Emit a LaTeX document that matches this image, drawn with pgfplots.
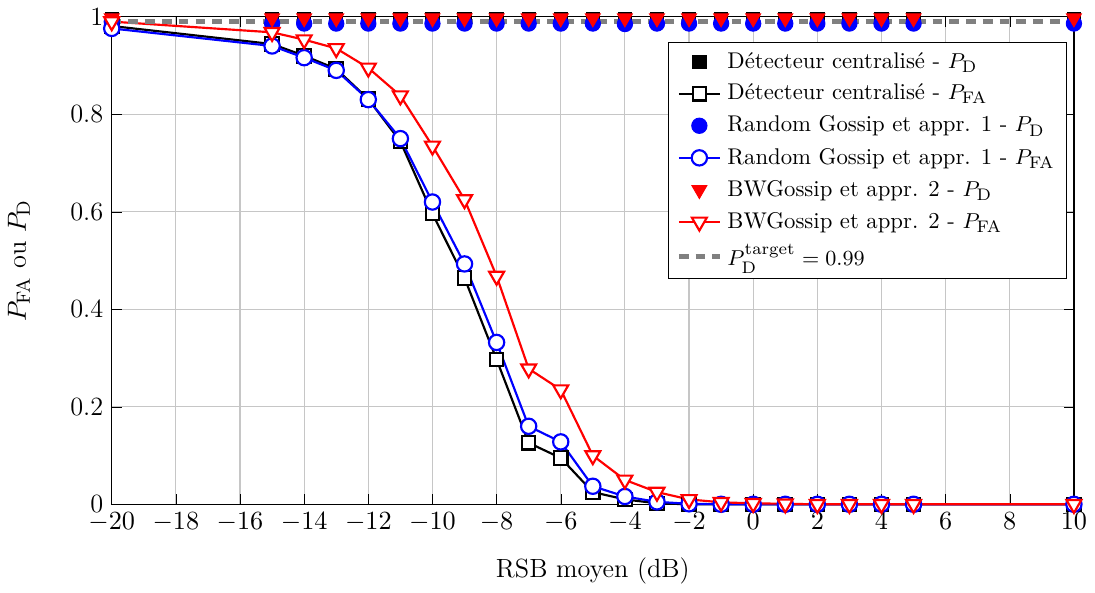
\documentclass[border=0pt]{standalone}
\usepackage{pgfplots}
\pgfplotsset{compat=1.18}
\begin{document}
\begin{tikzpicture}
\begin{axis}[
  scale only axis,
  width=402pt, height=203.7pt,
  xmin=-20, xmax=10, ymin=0, ymax=1,
  xtick={-20,-18,...,10},
  ytick={0,0.2,0.4,0.6,0.8,1},
  yticklabels={0,0.2,0.4,0.6,0.8,1},
  tick label style={font=\fontsize{11}{13}\selectfont},
  label style={font=\fontsize{11}{13}\selectfont},
  grid=major,
  grid style={gray!45, line width=0.5pt},
  axis line style={black, line width=0.6pt},
  tick style={black},
  xlabel={RSB moyen (dB)},
  ylabel={$P_{\mathrm{FA}}$ ou $P_{\mathrm{D}}$},
  ylabel style={yshift=10pt},
  xlabel style={yshift=-4pt},
  legend cell align=left,
  legend style={at={(0.993,0.948)}, anchor=north east, draw=black, fill=white, font=\fontsize{9.5}{11}\selectfont, row sep=1.2pt},
  clip=false,
]
% Detecteur centralise P_D
\addplot[only marks, mark=square*, mark size=2.8pt, black] coordinates {
(-20,0.995)(-15,0.995)(-14,0.995)(-13,0.995)(-12,0.995)(-11,0.995)(-10,0.995)(-9,0.995)(-8,0.995)(-7,0.995)(-6,0.995)(-5,0.995)(-4,0.995)(-3,0.995)(-2,0.995)(-1,0.995)(0,0.995)(1,0.995)(2,0.995)(3,0.995)(4,0.995)(5,0.995)(10,0.995)};
\addlegendentry{D\'etecteur centralis\'e - $P_{\mathrm{D}}$}
% Detecteur centralise P_FA
\addplot[black, line width=0.9pt, mark=square*, mark size=2.8pt, mark options={fill=white, line width=0.9pt}] coordinates {
(-20,0.981)(-15,0.944)(-14,0.920)(-13,0.893)(-12,0.831)(-11,0.744)(-10,0.596)(-9,0.464)(-8,0.297)(-7,0.126)(-6,0.095)(-5,0.025)(-4,0.010)(-3,0.002)(-2,0.0)(-1,0.0)(0,0.0)(1,0.0)(2,0.0)(3,0.0)(4,0.0)(5,0.0)(10,0.0)};
\addlegendentry{D\'etecteur centralis\'e - $P_{\mathrm{FA}}$}
% Random Gossip P_D
\addplot[only marks, mark=*, mark size=3.2pt, blue] coordinates {
(-20,0.99)(-15,0.986)(-14,0.986)(-13,0.986)(-12,0.986)(-11,0.986)(-10,0.986)(-9,0.986)(-8,0.986)(-7,0.986)(-6,0.986)(-5,0.986)(-4,0.985)(-3,0.986)(-2,0.986)(-1,0.986)(0,0.986)(1,0.986)(2,0.986)(3,0.986)(4,0.986)(5,0.986)(10,0.986)};
\addlegendentry{Random Gossip et appr. 1 - $P_{\mathrm{D}}$}
% Random Gossip P_FA
\addplot[blue, line width=0.9pt, mark=*, mark size=3.2pt, mark options={fill=white, line width=0.9pt}] coordinates {
(-20,0.976)(-15,0.940)(-14,0.916)(-13,0.890)(-12,0.830)(-11,0.750)(-10,0.620)(-9,0.493)(-8,0.332)(-7,0.160)(-6,0.128)(-5,0.037)(-4,0.016)(-3,0.005)(-2,0.001)(-1,0.0)(0,0.0)(1,0.0)(2,0.0)(3,0.0)(4,0.0)(5,0.0)(10,0.0)};
\addlegendentry{Random Gossip et appr. 1 - $P_{\mathrm{FA}}$}
% BWGossip P_D
\addplot[only marks, mark=triangle*, mark size=3.6pt, red, mark options={rotate=180}] coordinates {
(-20,0.997)(-15,0.997)(-14,0.997)(-13,0.997)(-12,0.997)(-11,0.997)(-10,0.997)(-9,0.997)(-8,0.997)(-7,0.997)(-6,0.997)(-5,0.997)(-4,0.997)(-3,0.997)(-2,0.997)(-1,0.997)(0,0.997)(1,0.997)(2,0.997)(3,0.997)(4,0.997)(5,0.997)(10,0.997)};
\addlegendentry{BWGossip et appr. 2 - $P_{\mathrm{D}}$}
% BWGossip P_FA
\addplot[red, line width=0.9pt, mark=triangle*, mark size=3.6pt, mark options={rotate=180, fill=white, line width=0.9pt}] coordinates {
(-20,0.990)(-15,0.968)(-14,0.953)(-13,0.935)(-12,0.895)(-11,0.838)(-10,0.735)(-9,0.625)(-8,0.468)(-7,0.278)(-6,0.235)(-5,0.100)(-4,0.050)(-3,0.025)(-2,0.010)(-1,0.004)(0,0.002)(1,0.001)(2,0.0)(3,0.0)(4,0.0)(5,0.0)(10,0.0)};
\addlegendentry{BWGossip et appr. 2 - $P_{\mathrm{FA}}$}
% Target
\addplot[gray, line width=2.4pt, dash pattern=on 4pt off 3pt] coordinates {(-20,0.99)(10,0.99)};
\addlegendentry{$P_{\mathrm{D}}^{\mathrm{target}}=0.99$}
\end{axis}
\end{tikzpicture}
\end{document}
